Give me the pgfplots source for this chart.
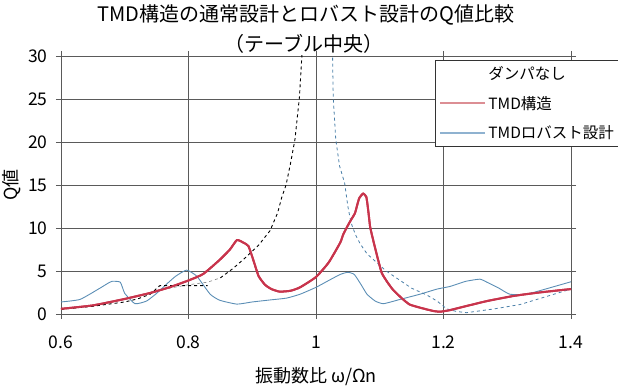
\documentclass[border=0pt]{standalone}
\usepackage{fontspec}
\setmainfont{Noto Sans CJK JP}
\usepackage{pgfplots}
\pgfplotsset{compat=1.18}
\definecolor{tmdred}{HTML}{C8344C}
\definecolor{robblue}{HTML}{5B8EB5}
\definecolor{dashblue}{HTML}{4A7FA8}
\definecolor{legred}{HTML}{DC8E94}
\definecolor{legblue}{HTML}{8FB2D0}
\definecolor{gridc}{HTML}{5A5A5A}
\pgfplotstableread{
x y
0.6 0.6
0.65 1.0
0.7 1.75
0.74 2.45
0.77 3.1
0.8 3.9
0.823 4.65
0.849 6.3
0.865 7.5
0.876 8.6
0.886 8.3
0.894 7.9
0.902 6.2
0.91 4.4
0.92 3.4
0.93 2.9
0.943 2.6
0.96 2.7
0.975 3.1
1.0 4.3
1.02 6.0
1.038 8.3
1.043 9.3
1.053 10.7
1.061 11.7
1.064 12.5
1.068 13.5
1.074 14.0
1.079 13.6
1.082 12.0
1.085 10.1
1.09 8.5
1.095 7.0
1.103 4.8
1.112 3.7
1.121 2.8
1.135 1.8
1.147 1.1
1.165 0.7
1.184 0.35
1.195 0.27
1.21 0.45
1.24 1.0
1.268 1.5
1.31 2.1
1.35 2.5
1.4 2.9
}\tmdtable
\begin{document}
\begin{tikzpicture}[x=1pt,y=1pt]
\useasboundingbox (-61,-76) rectangle (557,314);
\begin{axis}[
  at={(0,0)}, anchor=south west,
  scale only axis, width=510pt, height=258pt,
  xmin=0.6, xmax=1.4, ymin=0, ymax=30,
  xtick={0.6,0.8,1,1.2,1.4},
  ytick={0,5,10,15,20,25,30},
  /pgf/number format/assume math mode=true,
  ticklabel style={font=\fontsize{17.5}{20}\selectfont},
  xticklabel style={yshift=-13pt},
  yticklabel style={xshift=-5pt},
  tick align=outside, major tick length=5pt,
  tick style={color=gridc, line width=0.8pt},
  grid=major,
  major grid style={color=gridc, line width=0.9pt},
  axis line style={color=gridc, line width=0.9pt},
  xlabel={振動数比 ω/Ωn},
  ylabel={Q値},
  label style={font=\fontsize{18}{20}\selectfont},
  xlabel style={yshift=-12pt},
  legend style={at={(0.7333,0.9845)}, anchor=north west,
    font=\fontsize{15.5}{17}\selectfont, legend cell align=left,
    inner xsep=4pt, inner ysep=4pt, row sep=11pt},
  every axis legend/.append style={draw=black!80, line width=0.9pt},
  legend image code/.code={\draw[#1] (0pt,0pt) -- (45pt,0pt);},
]
\addlegendimage{empty legend}
\addlegendentry{ダンパなし}
% TMD structure (red) - for legend, drawn again on top later
\addplot[tmdred, line width=2pt, smooth, tension=0.3,
  legend image post style={legred, line width=2pt}] table {\tmdtable};
\addlegendentry{TMD構造}
% TMD robust design (blue solid)
\addplot[robblue, line width=0.9pt, smooth, tension=0.3,
  legend image post style={legblue, line width=1.6pt}] coordinates {
 (0.6,1.4) (0.63,1.7) (0.661,3.0) (0.672,3.5) (0.68,3.8) (0.693,3.7) (0.70,2.4)
 (0.716,1.2) (0.734,1.5) (0.75,2.4) (0.766,3.5) (0.78,4.4) (0.797,5.1) (0.813,4.4)
 (0.834,2.3) (0.849,1.6) (0.876,1.15) (0.9,1.4) (0.93,1.65) (0.954,1.85) (0.975,2.3)
 (1.0,3.1) (1.02,3.9) (1.038,4.6) (1.05,4.85) (1.06,4.6) (1.07,3.5) (1.08,2.3)
 (1.093,1.5) (1.106,1.2) (1.132,1.7) (1.163,2.3) (1.19,2.9) (1.21,3.2) (1.235,3.8)
 (1.257,4.05) (1.268,3.7) (1.287,3.0) (1.304,2.3) (1.33,2.3) (1.36,2.9) (1.4,3.75)
};
\addlegendentry{TMDロバスト設計}
% Undamped (black dashed, left branch)
\addplot[black, dashed, line width=0.9pt, forget plot] coordinates {
 (0.6,0.55) (0.65,0.9) (0.7,1.4) (0.72,1.75) (0.74,2.3) (0.755,3.3) (0.83,3.3)
};
\addplot[black!45, dashed, line width=0.7pt, forget plot] coordinates {
 (0.74,2.5) (0.77,3.0) (0.80,3.4) (0.83,3.7) (0.85,4.2)
};
\addplot[black, dashed, line width=0.9pt, forget plot] coordinates {
 (0.85,4.2) (0.87,5.3) (0.89,6.6) (0.91,8.0) (0.928,9.7) (0.94,11.8) (0.946,13.5)
 (0.953,15.0) (0.96,17.5) (0.967,20.3) (0.974,25.2) (0.978,30.2) (0.981,34)
};
% Undamped (blue dashed, right branch)
\addplot[dashblue, dashed, line width=0.8pt, forget plot] coordinates {
 (1.025,34) (1.026,30) (1.027,25.2) (1.031,20.3) (1.037,17.2) (1.045,15.2) (1.05,12.5)
 (1.055,10.6) (1.062,9.2) (1.069,8.2) (1.08,7.0) (1.095,6.0) (1.11,5.0) (1.132,3.9)
 (1.15,3.0) (1.174,2.2) (1.19,1.5) (1.205,0.6) (1.22,0.3) (1.236,0.15) (1.28,0.6)
 (1.32,1.1) (1.36,2.0) (1.4,2.9)
};
% red on top
\addplot[tmdred, line width=2pt, smooth, tension=0.3, forget plot] table {\tmdtable};
\end{axis}
\node[font=\fontsize{20}{24}\selectfont] at (245,299) {TMD構造の通常設計とロバスト設計のQ値比較};
\node[font=\fontsize{20}{24}\selectfont] at (243,270) {（テーブル中央）};
\end{tikzpicture}
\end{document}
